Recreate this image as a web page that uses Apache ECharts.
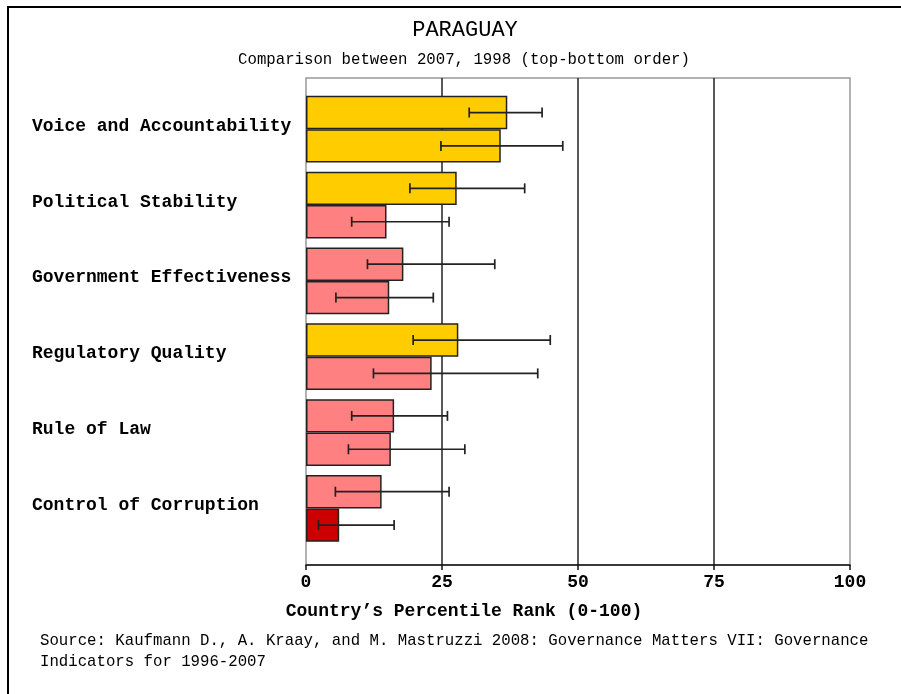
<!DOCTYPE html>
<html>
<head>
<meta charset="utf-8">
<script src="https://cdn.jsdelivr.net/npm/echarts@6/dist/echarts.min.js"></script>
<style>html,body{margin:0;padding:0;background:#fff}#c{width:901px;height:694px}</style>
</head>
<body>
<div id="c"></div>
<script>
var categories = ['Voice and Accountability', 'Political Stability', 'Government Effectiveness', 'Regulatory Quality', 'Rule of Law', 'Control of Corruption'];
var rank2007 = [37.0, 27.7, 17.9, 28.0, 16.2, 13.9];
var low2007 = [30.0, 19.1, 11.3, 19.7, 8.4, 5.4];
var high2007 = [43.4, 40.2, 34.7, 44.9, 26.0, 26.3];
var rank1998 = [35.8, 14.8, 15.3, 23.1, 15.6, 6.1];
var low1998 = [24.8, 8.4, 5.5, 12.4, 7.8, 2.3];
var high1998 = [47.2, 26.3, 23.4, 42.6, 29.2, 16.2];
var xTicks = [0, 25, 50, 75, 100];

var MONO = '"Liberation Mono", "DejaVu Sans Mono", monospace';
var CAT_GAP = 0.12;

function rankColor(v) {
  if (v < 10) return '#CC0000';
  if (v < 25) return '#FF8080';
  if (v < 50) return '#FFCC00';
  if (v < 75) return '#99CC00';
  return '#009900';
}

function barData(vals) {
  return vals.map(function (v) {
    return { value: v, itemStyle: { color: rankColor(v) } };
  });
}

function errData(lo, hi) {
  return lo.map(function (l, i) { return [l, hi[i], i]; });
}

function errRender(sign) {
  return function (params, api) {
    var cat = api.value(2);
    var p1 = api.coord([api.value(0), cat]);
    var p2 = api.coord([api.value(1), cat]);
    var band = api.size([0, 1])[1];
    var bw = band * (1 - CAT_GAP) / 2;
    var y = p1[1] + sign * bw / 2;
    var cap = 5;
    var st = { stroke: '#222', lineWidth: 1.7 };
    return {
      type: 'group',
      children: [
        { type: 'line', shape: { x1: p1[0], y1: y, x2: p2[0], y2: y }, style: st },
        { type: 'line', shape: { x1: p1[0], y1: y - cap, x2: p1[0], y2: y + cap }, style: st },
        { type: 'line', shape: { x1: p2[0], y1: y - cap, x2: p2[0], y2: y + cap }, style: st }
      ]
    };
  };
}

var chart = echarts.init(document.getElementById('c'));
chart.setOption({
  animation: false,
  backgroundColor: '#fff',
  graphic: [
    { type: 'rect', shape: { x: 8, y: 7, width: 2000, height: 2000 }, style: { fill: 'none', stroke: '#000', lineWidth: 2 }, silent: true },
    { type: 'text', x: 465, y: 30, style: { text: 'PARAGUAY', font: '22px ' + MONO, fill: '#000', textAlign: 'center', textVerticalAlign: 'middle' } },
    { type: 'text', x: 464, y: 60, style: { text: 'Comparison between 2007, 1998 (top-bottom order)', font: '15.7px ' + MONO, fill: '#000', textAlign: 'center', textVerticalAlign: 'middle' } },
    { type: 'text', x: 40, y: 630, style: { text: 'Source: Kaufmann D., A. Kraay, and M. Mastruzzi 2008: Governance Matters VII: Governance\nIndicators for 1996-2007', font: '15.7px ' + MONO, fill: '#000', lineHeight: 21, textAlign: 'left', textVerticalAlign: 'top' } }
  ],
  grid: [
    { left: 306, width: 544, top: 91.3, height: 455, show: false },
    { left: 306, width: 544, top: 78, height: 487, show: true, borderColor: '#999', borderWidth: 1.5, backgroundColor: 'transparent' }
  ],
  xAxis: [
    { type: 'value', gridIndex: 0, min: 0, max: 100, show: false },
    {
      type: 'value', gridIndex: 1, min: xTicks[0], max: xTicks[xTicks.length - 1], interval: 25,
      axisLine: { show: true, lineStyle: { color: '#111', width: 1.5 } },
      axisTick: { show: true, length: 5, lineStyle: { color: '#111', width: 1.5 } },
      axisLabel: { margin: 8, color: '#000', fontFamily: MONO, fontWeight: 'bold', fontSize: 18 },
      splitLine: { show: true, showMinLine: false, showMaxLine: false, lineStyle: { color: '#222', width: 1.5 } },
      name: 'Country\u2019s Percentile Rank (0-100)',
      nameLocation: 'middle', nameGap: 37,
      nameTextStyle: { color: '#000', fontFamily: MONO, fontWeight: 'bold', fontSize: 18, padding: [0, 228, 0, 0] }
    }
  ],
  yAxis: [
    {
      type: 'category', gridIndex: 0, data: categories, inverse: true,
      axisLine: { show: false }, axisTick: { show: false }, splitLine: { show: false },
      axisLabel: {
        align: 'left', margin: 274, color: '#000',
        formatter: function (v) { return '{a|' + v + '}'; },
        rich: { a: { fontFamily: MONO, fontWeight: 'bold', fontSize: 18, color: '#000', padding: [0, 0, 6, 0] } }
      }
    },
    { type: 'value', gridIndex: 1, min: 0, max: 1, show: false }
  ],
  series: [
    {
      name: '2007', type: 'bar', xAxisIndex: 0, yAxisIndex: 0, data: barData(rank2007),
      barGap: '0%', barCategoryGap: (CAT_GAP * 100) + '%',
      itemStyle: { borderColor: '#222', borderWidth: 1.5 }
    },
    {
      name: '1998', type: 'bar', xAxisIndex: 0, yAxisIndex: 0, data: barData(rank1998),
      barGap: '0%', barCategoryGap: (CAT_GAP * 100) + '%',
      itemStyle: { borderColor: '#222', borderWidth: 1.5 }
    },
    { name: '2007 range', type: 'custom', xAxisIndex: 0, yAxisIndex: 0, data: errData(low2007, high2007), encode: { x: [0, 1], y: 2 }, renderItem: errRender(-1), z: 5 },
    { name: '1998 range', type: 'custom', xAxisIndex: 0, yAxisIndex: 0, data: errData(low1998, high1998), encode: { x: [0, 1], y: 2 }, renderItem: errRender(1), z: 5 }
  ]
});
</script>
</body>
</html>
